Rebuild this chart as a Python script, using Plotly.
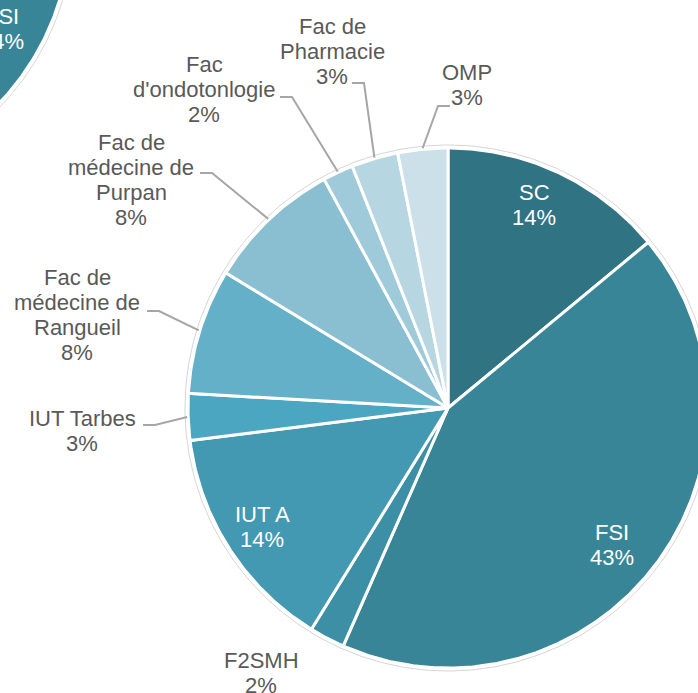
import math
from textwrap import wrap
import plotly.graph_objects as go

# ----------------------
#  Données du graphique
# ----------------------

composantes = [
    "SC", "FSI", "F2SMH", "IUT A", "IUT Tarbes",
    "Fac de médecine de Rangueil", "Fac de médecine de Purpan",
    "Fac d'ondotonlogie", "Fac de Pharmacie", "OMP",
]
parts = [14.0, 42.6, 2.2, 14.2, 2.9, 7.8, 8.4, 1.9, 2.9, 3.1]

# graphique voisin, coupé dans le coin en haut à gauche
voisin_composantes = ["SC", "FSI", "Autres"]
voisin_parts = [11, 44, 45]

couleurs = [
    "#307382", "#388597", "#3c8fa5", "#4399b1", "#4ba7c1",
    "#64b0c8", "#89bfd1", "#9fcada", "#b6d6e2", "#cbe0e9",
]

# ----------------------
#  Mise en page (px)
# ----------------------

W, H = 698, 693
centre = (448, 408)
rayon = 260
voisin_centre = (-189, -76)

# centre de chaque bloc d'étiquette (dans la part => texte blanc)
etiquettes_xy = [(534, 205), (612, 545), (261, 673), (262, 527), (82, 431),
                 (77, 315), (131, 180), (204, 89), (332, 51), (467, 85)]
# point de départ des traits de rappel, côté étiquette
rappels_xy = [None, None, None, None, (143, 425), (147, 311),
              (200, 173), (280, 97), (352, 83), (450, 106)]

police = "Liberation Sans, Arial, sans-serif"
interligne = 25


def point(c, r, angle):
    # angle en degrés, sens horaire depuis midi ; y vers le bas
    a = math.radians(angle)
    return c[0] + r * math.sin(a), c[1] - r * math.cos(a)


def secteurs(valeurs):
    total = sum(valeurs)
    debut = 0
    for v in valeurs:
        a0 = debut / total * 360
        a1 = (debut + v) / total * 360
        debut += v
        yield a0, a1


fig = go.Figure()
annotations = []


def ajoute_camembert(c, valeurs, noms, cols):
    for (a0, a1), nom, col in zip(secteurs(valeurs), noms, cols):
        n = max(2, int((a1 - a0) * 2))
        arc = [point(c, rayon, a0 + (a1 - a0) * k / n) for k in range(n + 1)]
        xs = [c[0]] + [p[0] for p in arc] + [c[0]]
        ys = [c[1]] + [p[1] for p in arc] + [c[1]]
        fig.add_trace(go.Scatter(
            x=xs, y=ys, mode="lines", fill="toself", fillcolor=col,
            line=dict(color="white", width=3), name=nom,
            hoverinfo="skip", showlegend=False,
        ))
    # contour gris très léger
    tour = [point(c, rayon + 3, k) for k in range(0, 361)]
    fig.add_trace(go.Scatter(
        x=[p[0] for p in tour], y=[p[1] for p in tour], mode="lines",
        line=dict(color="#d6d6d6", width=1),
        hoverinfo="skip", showlegend=False,
    ))


def ajoute_texte(x, y, lignes, couleur):
    n = len(lignes)
    for i, t in enumerate(lignes):
        annotations.append(dict(
            x=x, y=y + (i - (n - 1) / 2) * interligne, text=t,
            showarrow=False, xanchor="center", yanchor="middle",
            font=dict(family=police, size=22, color=couleur),
        ))


ajoute_camembert(voisin_centre, voisin_parts, voisin_composantes,
                 ["#307382", "#388597", "#4399b1"])
ajoute_camembert(centre, parts, composantes, couleurs)

# étiquette visible du graphique voisin
total_v = sum(voisin_parts)
for (a0, a1), nom, v in zip(secteurs(voisin_parts), voisin_composantes, voisin_parts):
    x, y = point(voisin_centre, rayon * 0.84, (a0 + a1) / 2)
    if 0 <= x <= W and 0 <= y <= H:
        ajoute_texte(x, y, [nom, f"{round(v / total_v * 100)}%"], "white")

# étiquettes et traits de rappel du graphique principal
total = sum(parts)
for (a0, a1), nom, v, pos, rappel in zip(
        secteurs(parts), composantes, parts, etiquettes_xy, rappels_xy):
    milieu = (a0 + a1) / 2
    lignes = wrap(nom, width=12, break_long_words=False)
    lignes.append(f"{round(v / total * 100)}%")
    dedans = math.hypot(pos[0] - centre[0], pos[1] - centre[1]) < rayon
    ajoute_texte(pos[0], pos[1], lignes, "white" if dedans else "#595959")
    if rappel is not None:
        bord = point(centre, rayon + 1, milieu)
        coude_x = rappel[0] + (12 if rappel[0] < bord[0] else -12)
        fig.add_trace(go.Scatter(
            x=[rappel[0], coude_x, bord[0]],
            y=[rappel[1], rappel[1], bord[1]],
            mode="lines", line=dict(color="#a6a6a6", width=2),
            hoverinfo="skip", showlegend=False,
        ))

fig.update_layout(
    width=W, height=H,
    margin=dict(l=0, r=0, t=0, b=0),
    paper_bgcolor="white", plot_bgcolor="white",
    annotations=annotations,
    xaxis=dict(range=[0, W], visible=False, fixedrange=True),
    yaxis=dict(range=[H, 0], visible=False, fixedrange=True),
)

# la page ne doit pas décaler le graphique
fig.write_html(
    "out.html",
    config=dict(displayModeBar=False),
    post_script="document.body.style.margin = '0'; document.body.style.overflow = 'hidden';",
)
